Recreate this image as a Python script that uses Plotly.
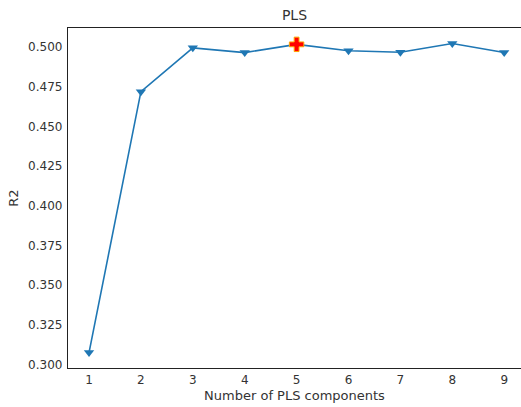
import plotly.graph_objects as go

# R2 score versus number of PLS components
n_components = [1, 2, 3, 4, 5, 6, 7, 8, 9]
r2_scores = [0.3075, 0.4719, 0.4995, 0.4965, 0.5017, 0.4977, 0.4967, 0.5022, 0.4966]
best_n = [5]
best_r2 = [0.5017]

y_ticks = [0.300, 0.325, 0.350, 0.375, 0.400, 0.425, 0.450, 0.475, 0.500]
x_ticks = n_components

font = "DejaVu Sans"
text_col = "#333333"

fig = go.Figure()
fig.add_trace(go.Scatter(
    x=n_components, y=r2_scores, mode="lines+markers",
    line=dict(color="#1f77b4", width=1.6),
    marker=dict(symbol="triangle-down", size=9, color="#1f77b4"),
    showlegend=False,
))
fig.add_trace(go.Scatter(
    x=best_n, y=best_r2, mode="markers",
    marker=dict(symbol="cross", size=12, color="red",
                line=dict(color="orange", width=1)),
    showlegend=False,
))

fig.update_layout(
    width=521, height=407,
    margin=dict(l=68, r=0, t=28, b=39),
    paper_bgcolor="white", plot_bgcolor="white",
    font=dict(family=font, size=12, color=text_col),
    title=dict(text="PLS", x=0.5, xanchor="center", xref="paper",
               y=1 - 15 / 407, yanchor="middle",
               font=dict(family=font, size=14, color=text_col)),
)
fig.update_xaxes(
    range=[0.595, 9.324], tickvals=x_ticks, ticktext=[str(v) for v in x_ticks],
    showgrid=False, zeroline=False, showline=True, linecolor="#222222",
    linewidth=1.3, mirror=True, ticks="", ticklen=0,
    title=dict(text="Number of PLS components", standoff=5,
               font=dict(family=font, size=13, color=text_col)),
)
fig.update_yaxes(
    range=[0.2978, 0.5120], tickvals=y_ticks,
    ticktext=[f"{v:.3f}" for v in y_ticks],
    showgrid=False, zeroline=False, showline=True, linecolor="#222222",
    linewidth=1.3, ticks="outside", ticklen=2, tickcolor="white",
    title=dict(text="R2", standoff=6,
               font=dict(family=font, size=13, color=text_col)),
)

fig.write_html("out.html")
